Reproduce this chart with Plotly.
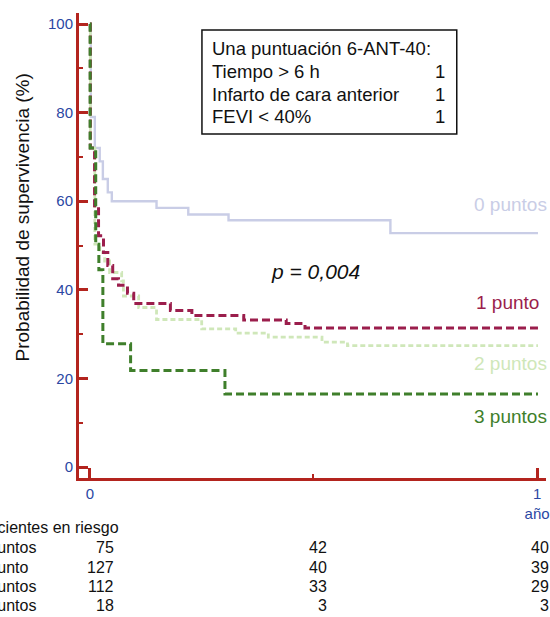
import plotly.graph_objects as go

# ---- data ----
t_0 = [0, 0.002, 0.011, 0.022, 0.029, 0.040, 0.049, 0.149, 0.220, 0.310, 0.672, 1.002]
s_0 = [100, 79, 72, 69, 65, 62, 60, 58.5, 57, 55.7, 52.8, 52.8]

t_1 = [0, 0.001, 0.0104, 0.0193, 0.0304, 0.040, 0.051, 0.064, 0.084, 0.098, 0.180, 0.228, 0.344, 0.439, 0.481, 1.002]
s_1 = [100, 72, 59, 52.2, 48.4, 45.5, 42.5, 41, 39.2, 36.9, 35.3, 34.2, 33.2, 32.4, 31.4, 31.4]

t_2 = [0, 0.001, 0.011, 0.022, 0.033, 0.044, 0.071, 0.075, 0.109, 0.149, 0.250, 0.326, 0.399, 0.519, 0.576, 1.002]
s_2 = [100, 72, 50.3, 48.4, 46.5, 43.9, 42, 38.6, 36, 33.3, 31.2, 30.2, 29.3, 28.2, 27.4, 27.4]

t_3 = [0, 0.0005, 0.013, 0.020, 0.029, 0.091, 0.302, 1.002]
s_3 = [100, 72, 50.3, 44.5, 27.8, 21.8, 16.5, 16.5]

group_labels = ["0 puntos", "1 punto", "2 puntos", "3 puntos"]
risk_0 = [75, 42, 40]
risk_1 = [127, 40, 39]
risk_2 = [112, 33, 29]
risk_3 = [18, 3, 3]
risk_header = "Pacientes en riesgo"

score_title = "Una puntuación 6-ANT-40:"
score_items = ["Tiempo > 6 h", "Infarto de cara anterior", "FEVI < 40%"]
score_points = ["1", "1", "1"]

y_ticks = [0, 20, 40, 60, 80, 100]
x_ticks = [0, 1]
x_ticktext = ["0", "1<br>año"]
p_text = "p = 0,004"
y_title = "Probabilidad de supervivencia (%)"

# ---- style ----
W, H = 550, 617
ML, MR, MT, MB = 79, 0, 13, 139
PW, PH = W - ML - MR, H - MT - MB
FONT = "Liberation Sans, Arial, sans-serif"
AXIS = "#b3241e"
TICKC = "#2b47a3"
C0, C1, C2, C3 = "#c9cde6", "#9b1e4c", "#cfe7b9", "#3f7f2b"


def px(x):
    return (x - ML) / PW


def py(y):
    return (H - MB - y) / PH


fig = go.Figure()
fig.add_trace(go.Scatter(x=t_0, y=s_0, mode="lines", line=dict(color=C0, width=2.4, shape="hv"), hoverinfo="skip"))
fig.add_trace(go.Scatter(x=t_2, y=s_2, mode="lines", line=dict(color=C2, width=2.8, shape="hv", dash="5px,3px"), hoverinfo="skip"))
fig.add_trace(go.Scatter(x=t_1, y=s_1, mode="lines", line=dict(color=C1, width=3, shape="hv", dash="8px,4px"), hoverinfo="skip"))
fig.add_trace(go.Scatter(x=t_3, y=s_3, mode="lines", line=dict(color=C3, width=3, shape="hv", dash="8px,4px"), hoverinfo="skip"))


def note(x, y, text, size, color="#111111", xanchor="center", **kw):
    return dict(x=px(x), y=py(y), xref="paper", yref="paper", text=text, showarrow=False,
                xanchor=xanchor, yanchor="middle", font=dict(family=FONT, size=size, color=color), **kw)


ann = []
ann.append(note(22, 217, y_title, 19, textangle=-90))
ann.append(note(318, 271, "<i>" + p_text + "</i>", 21))
lab_pos = [(553, 204, C0), (545, 302, C1), (553, 363, C2), (553, 416, C3)]
for lab, (xx, yy, cc) in zip(group_labels, lab_pos):
    ann.append(note(xx, yy, lab, 19, cc, xanchor="right"))
box_lines_y = [48, 72, 94, 116]
ann.append(note(211, box_lines_y[0], score_title, 18.5, xanchor="left"))
for item, pts, yy in zip(score_items, score_points, box_lines_y[1:]):
    ann.append(note(211, yy, item, 18.5, xanchor="left"))
    ann.append(note(450, yy, pts, 18.5, xanchor="right"))
ann.append(note(-25, 527, risk_header, 16, xanchor="left"))
rows_y = [547, 567, 586, 605]
col_x = [116, 331, 555]
for lab, vals, yy in zip(group_labels, [risk_0, risk_1, risk_2, risk_3], rows_y):
    ann.append(note(-28, yy, lab, 16, xanchor="left"))
    for v, xx in zip(vals, col_x):
        ann.append(note(xx, yy, str(v), 16, xanchor="right"))

fig.update_layout(
    width=W, height=H,
    margin=dict(l=ML, r=MR, t=MT, b=MB, pad=0),
    paper_bgcolor="white", plot_bgcolor="white",
    showlegend=False,
    annotations=ann,
    shapes=[dict(type="rect", xref="paper", yref="paper", x0=px(203), x1=px(460), y0=py(134), y1=py(30),
                 line=dict(color="#111111", width=1.5), fillcolor="rgba(0,0,0,0)")],
    xaxis=dict(range=[-11 / 451, 1 + 9 / 451], showgrid=False, zeroline=False,
               showline=True, linecolor=AXIS, linewidth=3,
               ticks="inside", ticklen=10, tickwidth=3, tickcolor=AXIS,
               tickvals=x_ticks, ticktext=x_ticktext, ticklabeloverflow="allow",
               tickfont=dict(family=FONT, size=15, color=TICKC),
               minor=dict(tickvals=[0.5], ticks="inside", ticklen=4, tickwidth=2, tickcolor=AXIS)),
    yaxis=dict(range=[-11 / 4.43, 100 + 11 / 4.43], showgrid=False, zeroline=False,
               showline=True, linecolor=AXIS, linewidth=3,
               ticks="inside", ticklen=9, tickwidth=3, tickcolor=AXIS,
               tickvals=y_ticks,
               tickfont=dict(family=FONT, size=15, color=TICKC),
               minor=dict(dtick=10, tick0=0, ticks="inside", ticklen=4, tickwidth=2, tickcolor=AXIS)),
)

fig.write_html("out.html", config={"displayModeBar": False},
               post_script="document.body.style.margin='0';document.body.style.overflow='hidden';"
                           "document.documentElement.style.overflow='hidden';")
